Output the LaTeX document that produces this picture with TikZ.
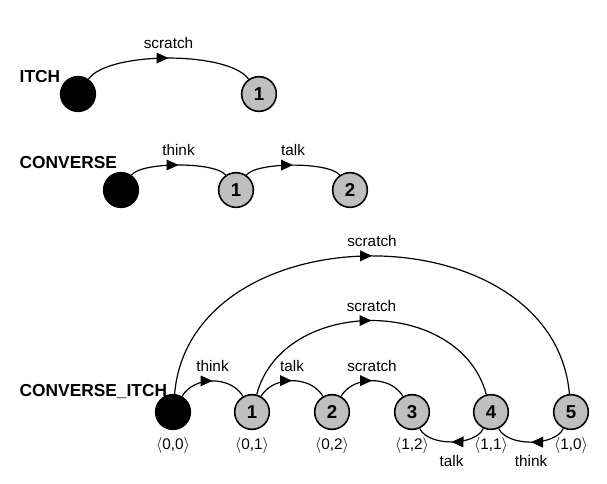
\documentclass[tikz,border=0pt]{standalone}
\usepackage{fontspec}
\setmainfont{Liberation Sans}
\usepackage{tikz}
\usetikzlibrary{arrows.meta,decorations.markings}

\begin{document}
\begin{tikzpicture}[x=0.75pt,y=-0.75pt,
  state/.style={circle,draw,line width=1.2pt,minimum size=26pt,inner sep=0pt,fill=gray!50,font=\bfseries\fontsize{14}{14}\selectfont},
  startstate/.style={state,fill=black},
  trans/.style={line width=0.9pt,postaction={decorate},decoration={markings,mark=at position 0.5 with {\arrow{Triangle[length=9pt,width=8pt]}}}},
  lbl/.style={font=\fontsize{11.5}{11.5}\selectfont},
  title/.style={anchor=west,font=\bfseries\fontsize{13}{13}\selectfont}]
\useasboundingbox (0,0) rectangle (607,483);

% ITCH
\node[title] (itch) at (15,77) {ITCH};
\node[startstate] (i0) at (78,94) {};
\node[state] (i1) at (259,94) {1};
\draw[trans] (i0) to[out=55,in=125,looseness=0.55] node[lbl,above=3pt] (il) {scratch} (i1);

% CONVERSE
\node[title] (conv) at (15,163) {CONVERSE};
\node[startstate] (c0) at (121,190) {};
\node[state] (c1) at (236,190) {1};
\node[state] (c2) at (350,190) {2};
\draw[trans] (c0) to[out=55,in=125,looseness=0.45] node[lbl,above=3pt] (cl1) {think} (c1);
\draw[trans] (c1) to[out=55,in=125,looseness=0.45] node[lbl,above=3pt] (cl2) {talk} (c2);

% CONVERSE_ITCH
\node[title] (ci) at (15,391) {CONVERSE\_ITCH};
\node[startstate] (s0) at (173,412) {};
\node[state] (s1) at (252,412) {1};
\node[state] (s2) at (332,412) {2};
\node[state] (s3) at (412,412) {3};
\node[state] (s4) at (491,412) {4};
\node[state] (s5) at (571,412) {5};
\foreach \n/\t in {0/{0,0},1/{0,1},2/{0,2},3/{1,2},4/{1,1},5/{1,0}}
  \node[lbl,below=2pt] (p\n) at (s\n.south) {$\langle$\t$\rangle$};

\draw[trans] (s0) to[out=60,in=120] node[lbl,above=3pt] (t1) {think} (s1);
\draw[trans] (s1) to[out=60,in=120] node[lbl,above=3pt] (t2) {talk} (s2);
\draw[trans] (s2) to[out=60,in=120] node[lbl,above=3pt] (t3) {scratch} (s3);
\draw[trans] (s1) to[out=75,in=105,looseness=1.14] node[lbl,above=3pt] (t4) {scratch} (s4);
\draw[trans] (s0) to[out=85,in=95,looseness=1.2] node[lbl,above=3pt] (t5) {scratch} (s5);
\draw[trans] (s4) to[out=245,in=295,looseness=0.8] node[lbl,below=6pt] (t6) {talk} (s3);
\draw[trans] (s5) to[out=245,in=295,looseness=0.8] node[lbl,below=6pt] (t7) {think} (s4);
\end{tikzpicture}
\end{document}
